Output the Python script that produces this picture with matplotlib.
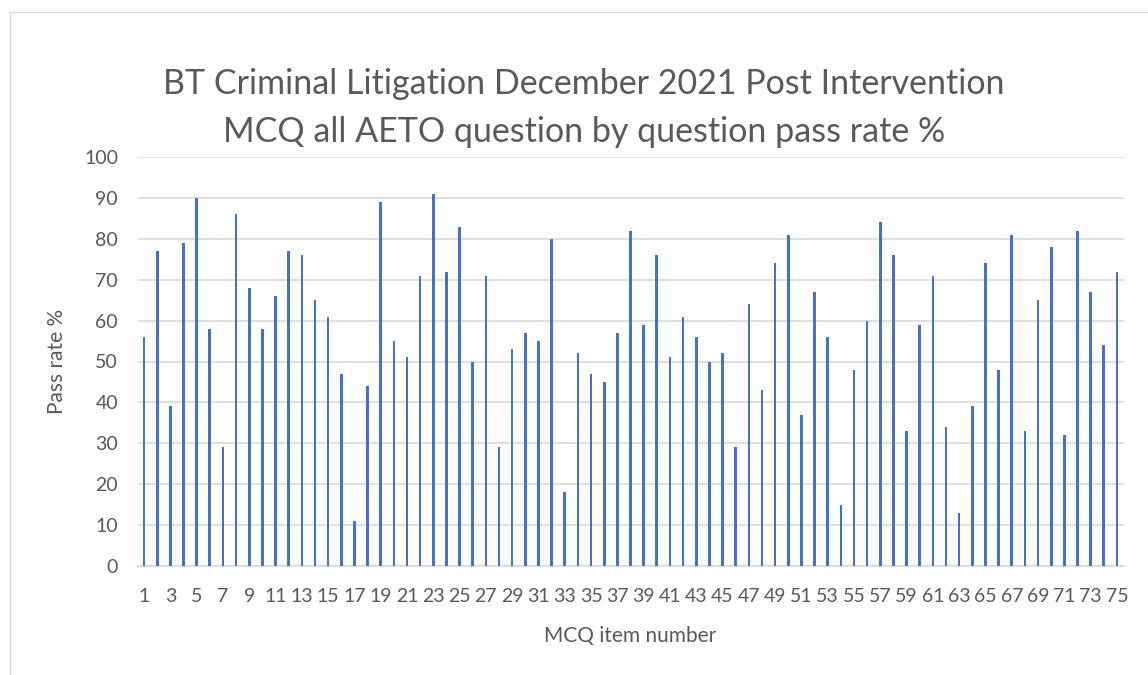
import matplotlib
matplotlib.use("Agg")
import matplotlib.pyplot as plt
from matplotlib.patches import Rectangle

items = list(range(1, 76))
pass_rate = [56, 77, 39, 79, 90, 58, 29, 86, 68, 58,
             66, 77, 76, 65, 61, 47, 11, 44, 89, 55,
             51, 71, 91, 72, 83, 50, 71, 29, 53, 57,
             55, 80, 18, 52, 47, 45, 57, 82, 59, 76,
             51, 61, 56, 50, 52, 29, 64, 43, 74, 81,
             37, 67, 56, 15, 48, 60, 84, 76, 33, 59,
             71, 34, 13, 39, 74, 48, 81, 33, 65, 78,
             32, 82, 67, 54, 72]
yticks = list(range(0, 101, 10))
title = "BT Criminal Litigation December 2021 Post Intervention\nMCQ all AETO question by question pass rate %"

plt.rcParams['font.family'] = ['Lato', 'DejaVu Sans']
W, H = 1148, 675
fig = plt.figure(figsize=(W / 100, H / 100), dpi=100)
ax = fig.add_axes([137.5 / W, 1 - 566 / H, (1123.5 - 137.5) / W, (566 - 157) / H])

ax.bar(items, pass_rate, width=0.2, color='#4472C4', zorder=3)
ax.set_xlim(0.5, 75.5)
ax.set_ylim(0, 100)
ax.set_yticks(yticks)
ax.set_xticks(items)
ax.set_xticklabels([str(i) if i % 2 == 1 else '' for i in items])
ax.grid(axis='y', color='#D9D9D9', linewidth=1.2, zorder=0)
for s in ['top', 'right', 'left']:
    ax.spines[s].set_visible(False)
ax.spines['bottom'].set_color('#D9D9D9')
ax.spines['bottom'].set_linewidth(1.2)
ax.tick_params(axis='both', length=0, labelsize=14, colors='#595959')
ax.tick_params(axis='x', pad=16)
ax.tick_params(axis='y', pad=14)
ax.set_xlabel('MCQ item number', fontsize=15, color='#595959', labelpad=15)
ax.set_ylabel('Pass rate %', fontsize=15, color='#595959', labelpad=12)

fig.text(584 / W, 1 - 108 / H, title, ha='center', va='center', fontsize=24.5,
         color='#595959', linespacing=1.6)

fig.patches.append(Rectangle((10 / W, -0.1), 1.2, 1 - 12 / H + 0.1, transform=fig.transFigure,
                             fill=False, edgecolor='#D9D9D9', linewidth=1))

fig.savefig('out.png', dpi=100)
